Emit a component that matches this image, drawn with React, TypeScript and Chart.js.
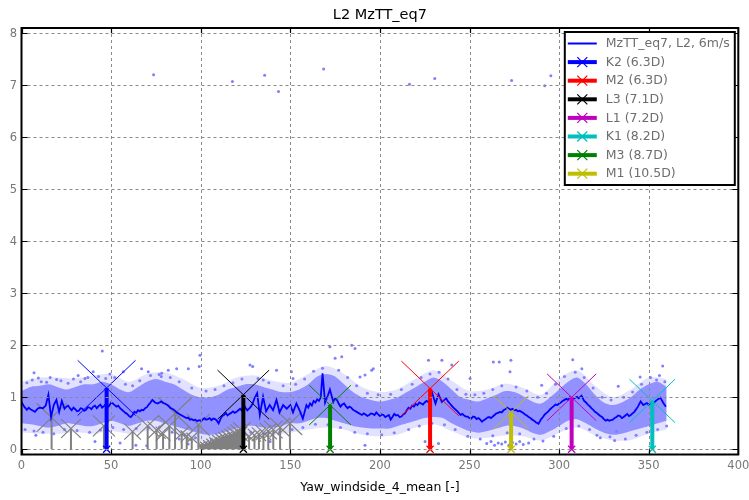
import { useEffect, useRef } from 'react';
import { Chart, registerables } from 'chart.js';

Chart.register(...registerables);

const FONT = '"DejaVu Sans", sans-serif';

const chartTitle = 'L2 MzTT_eq7';
const xAxisTitle = 'Yaw_windside_4_mean [-]';
const xTicks = [0, 50, 100, 150, 200, 250, 300, 350, 400];
const yTicks = [0, 1, 2, 3, 4, 5, 6, 7, 8];

const meanLabel = 'MzTT_eq7, L2, 6m/s';
const meanLine: [number, number][] = [
  [0, 0.91], [1.5, 0.82], [3, 0.76], [4, 0.8], [5, 0.77], [6.5, 0.74], [7.5, 0.72], [9, 0.78], [10, 0.8], [12, 0.79], [13.5, 0.84], [15, 1.05], [16.5, 0.62],
  [18, 0.85], [19.5, 0.95], [21, 0.72], [22.5, 0.93], [24, 0.78], [25, 0.82], [26, 0.84], [27, 0.79], [28, 0.75], [29, 0.8], [30, 0.77], [31, 0.73], [32, 0.74], [33, 0.79], [34, 0.78],
  [35, 0.74], [36, 0.76], [37, 0.81], [38, 0.8], [39, 0.77], [40, 0.82], [41, 0.84], [42, 0.79], [43, 0.83], [44, 0.86], [45, 0.8], [46, 0.83], [47.5, 0.88], [48.5, 0.82], [49, 0.84], [50, 0.9], [51, 0.88], [52, 0.85], [53, 0.82],
  [54, 0.84], [55, 0.79], [56, 0.76], [57, 0.73], [58, 0.7], [59, 0.68], [60, 0.64], [61, 0.62], [62, 0.66], [63, 0.72], [64, 0.7], [65, 0.75], [66, 0.73], [67, 0.76], [68, 0.75], [69, 0.79], [70, 0.81], [71, 0.86], [72, 0.9], [73, 0.95],
  [74.5, 0.9], [76, 0.88], [77, 0.9], [78, 0.92], [79, 0.89], [80, 0.88], [81, 0.86], [82, 0.84], [83, 0.8], [84, 0.78], [85, 0.76], [86, 0.73], [87, 0.7], [88, 0.68], [89, 0.66], [90, 0.64], [91, 0.62], [92, 0.6],
  [93, 0.61], [94, 0.57], [95, 0.58], [96, 0.56], [97, 0.57], [98, 0.54], [99, 0.56], [100, 0.55], [101, 0.57], [102, 0.6], [103, 0.57], [104, 0.58], [105, 0.6], [106, 0.56], [107, 0.59], [108, 0.58], [109, 0.55], [110, 0.5], [111, 0.58], [112, 0.64],
  [113, 0.66], [114, 0.7], [115, 0.65], [116, 0.68], [117, 0.7], [118, 0.73], [119, 0.7], [120, 0.72], [121, 0.75], [122, 0.78], [123, 0.74], [124, 0.86], [125, 0.8], [126, 0.75], [127, 0.78], [128, 0.82], [129, 0.88], [130, 0.98], [131.5, 1.08],
  [133, 0.66], [134.8, 1.01], [136.5, 0.73], [138.5, 0.85], [140.4, 0.75], [142.3, 0.95], [144, 0.71], [146, 0.85], [148, 0.78], [150, 0.85],
  [151.5, 0.71], [153.4, 0.88], [155.3, 0.74], [157, 0.59], [159, 0.85], [160, 0.8], [161, 0.88], [162, 0.84], [163, 0.93], [164, 0.9], [165, 0.96], [166, 0.93], [167, 1.0], [168, 1.46],
  [169.4, 0.9], [171, 1.04], [172.1, 1.15], [174, 0.91], [175, 0.98], [176, 0.95], [177, 0.88], [178, 0.82], [179, 0.86], [180, 0.88], [181, 0.83], [182, 0.79], [183, 0.82], [184, 0.8], [185, 0.76], [186, 0.74],
  [187, 0.72], [188, 0.7], [189, 0.68], [190, 0.66], [191, 0.69], [192, 0.67], [193, 0.64], [194, 0.66], [195, 0.69], [196, 0.68], [197, 0.66], [198, 0.71], [199, 0.67], [200, 0.64], [201, 0.67], [202, 0.66], [203, 0.62], [204, 0.64], [205, 0.66], [206, 0.57],
  [207, 0.62], [208, 0.68], [209, 0.65], [210, 0.66], [211, 0.62], [212, 0.63], [213, 0.67], [214, 0.69], [215, 0.75], [216, 0.8], [217, 0.78], [218, 0.84], [219, 0.82], [220, 0.87], [221, 0.85], [222, 0.9], [223, 0.88], [224, 0.86], [225, 0.9], [226, 0.93],
  [227, 0.91], [228, 0.97], [229, 1.1], [231, 0.88], [232.7, 1.06], [234.6, 0.91], [236, 0.95], [237, 0.98], [238, 0.92], [239, 0.88], [240, 0.84], [241, 0.8], [242, 0.77], [243, 0.74], [244, 0.7], [245, 0.66],
  [246, 0.68], [247, 0.65], [248, 0.63], [249, 0.63], [250, 0.6], [251, 0.59], [252, 0.63], [253, 0.62], [254, 0.58], [255, 0.6], [256, 0.57], [257, 0.53], [258, 0.56], [259, 0.58], [260, 0.61], [261, 0.62], [262, 0.6], [263, 0.63], [264, 0.66], [265, 0.69],
  [266, 0.7], [267, 0.72], [268, 0.71], [269, 0.75], [270, 0.77], [271, 0.8], [272, 0.78], [273, 0.76], [274, 0.78], [275, 0.75], [276, 0.76], [277, 0.73], [278, 0.74], [279, 0.72], [280, 0.7], [281, 0.67], [282, 0.65], [283, 0.62], [284, 0.6], [285, 0.57],
  [286, 0.55], [287, 0.52], [288.5, 0.49], [290, 0.58], [291, 0.62], [292, 0.67], [293, 0.7], [294, 0.73], [295, 0.77], [296, 0.8], [297, 0.83], [298, 0.86], [299, 0.85], [300, 0.88], [301, 0.9], [302, 0.93], [303, 0.95], [304, 0.97],
  [305, 0.95], [306, 1.0], [307, 0.98], [308, 0.97], [309, 0.99], [310, 1.01], [311, 0.98], [312.5, 1.03], [314, 0.93], [315, 0.9], [316, 0.86], [317, 0.83], [318, 0.79], [319, 0.76], [320, 0.72], [321, 0.7], [322, 0.67], [323, 0.64], [324, 0.62],
  [325, 0.58], [326, 0.55], [327, 0.57], [328, 0.55], [329, 0.56], [330, 0.57], [331, 0.6], [332, 0.62], [333, 0.65], [334, 0.64], [335, 0.6], [336, 0.62], [337, 0.65], [338, 0.68], [339, 0.64], [340, 0.66], [341, 0.69], [342, 0.72], [343, 0.77], [344, 0.82],
  [345.5, 0.92], [347, 0.85], [348, 0.87], [349, 0.89], [350, 0.86], [351, 0.88], [352, 0.91], [353, 0.9], [354, 0.93], [355, 0.96], [356.5, 0.99], [357.2, 0.95], [358, 0.9], [359.6, 0.82],
];

// scatter cloud envelope: dense core (5-unit steps) and sparse fringe (10-unit steps)
const coreX = [0, 5, 10, 15, 20, 25, 30, 35, 40, 45, 50, 55, 60, 65, 70, 75, 80, 85, 90, 95, 100, 105, 110, 115, 120, 125, 130, 135, 140, 145, 150, 155, 160, 165, 170, 175, 180, 185, 190, 195, 200, 205, 210, 215, 220, 225, 230, 235, 240, 245, 250, 255, 260, 265, 270, 275, 280, 285, 290, 295, 300, 305, 310, 315, 320, 325, 330, 335, 340, 345, 350, 355, 360];
const coreLow = [0.5, 0.48, 0.45, 0.42, 0.45, 0.5, 0.48, 0.45, 0.45, 0.5, 0.55, 0.5, 0.45, 0.5, 0.55, 0.55, 0.5, 0.45, 0.4, 0.35, 0.3, 0.28, 0.3, 0.35, 0.4, 0.45, 0.45, 0.42, 0.42, 0.45, 0.5, 0.5, 0.55, 0.6, 0.6, 0.55, 0.5, 0.45, 0.42, 0.4, 0.4, 0.4, 0.45, 0.5, 0.55, 0.6, 0.62, 0.6, 0.5, 0.42, 0.35, 0.32, 0.35, 0.4, 0.45, 0.45, 0.4, 0.32, 0.28, 0.35, 0.45, 0.55, 0.58, 0.5, 0.4, 0.32, 0.28, 0.3, 0.35, 0.4, 0.45, 0.5, 0.55];
const coreHigh = [1.12, 1.2, 1.22, 1.25, 1.2, 1.15, 1.2, 1.25, 1.25, 1.3, 1.25, 1.15, 1.1, 1.2, 1.3, 1.35, 1.3, 1.25, 1.15, 1.05, 1.0, 1.0, 1.05, 1.15, 1.2, 1.25, 1.25, 1.2, 1.15, 1.1, 1.1, 1.15, 1.25, 1.4, 1.45, 1.4, 1.25, 1.1, 1.0, 0.95, 0.92, 0.95, 1.0, 1.1, 1.2, 1.3, 1.38, 1.3, 1.15, 1.0, 0.95, 0.92, 0.98, 1.05, 1.12, 1.1, 1.02, 0.92, 0.88, 1.0, 1.15, 1.3, 1.38, 1.25, 1.05, 0.9, 0.85, 0.9, 1.0, 1.15, 1.25, 1.3, 1.2];
const fringeX = [0, 10, 20, 30, 40, 50, 60, 70, 80, 90, 100, 110, 120, 130, 140, 150, 160, 170, 180, 190, 200, 210, 220, 230, 240, 250, 260, 270, 280, 290, 300, 310, 320, 330, 340, 350, 360];
const fringeLow = [0.33, 0.3, 0.3, 0.33, 0.3, 0.35, 0.3, 0.35, 0.35, 0.25, 0.15, 0.15, 0.2, 0.28, 0.28, 0.32, 0.38, 0.42, 0.38, 0.28, 0.25, 0.28, 0.42, 0.48, 0.35, 0.22, 0.22, 0.27, 0.25, 0.17, 0.32, 0.42, 0.27, 0.17, 0.18, 0.3, 0.38];
const fringeHigh = [1.3, 1.38, 1.38, 1.36, 1.42, 1.45, 1.3, 1.45, 1.48, 1.35, 1.18, 1.22, 1.38, 1.42, 1.32, 1.28, 1.45, 1.6, 1.45, 1.2, 1.1, 1.16, 1.36, 1.52, 1.32, 1.12, 1.15, 1.26, 1.18, 1.05, 1.36, 1.52, 1.22, 1.0, 1.15, 1.38, 1.35];

// individual outlying samples
const outliers: [number, number][] = [
  [73.7, 7.2], [117.7, 7.07], [135.7, 7.19], [143.4, 6.88], [168.6, 7.31], [216.5, 7.02], [230.6, 7.13], [273.5, 7.09], [292, 6.99], [295.4, 7.18],
  [45.1, 1.89], [7, 1.47], [9.4, 1.37], [14, 1.29], [19.6, 1.34], [31.6, 1.42], [35.4, 1.36], [40, 1.49], [49.3, 1.45], [56.8, 1.49],
  [67, 1.55], [70.7, 1.49], [76.8, 1.44], [99.6, 1.81], [99.2, 1.59], [93.1, 1.55], [86.6, 1.55], [81.9, 1.52], [78.2, 1.46], [127.5, 1.62],
  [129, 1.59], [142.3, 1.52], [134.9, 1.33], [151.5, 1.36], [150.6, 1.49], [186.1, 1.94], [184.3, 2.0], [172.1, 1.97], [178.7, 1.78], [175, 1.75],
  [191.7, 1.43], [195.4, 1.52], [196.3, 1.55], [188.9, 1.39], [227.1, 1.71], [234.6, 1.71], [240.1, 1.62], [263.3, 1.68], [266.6, 1.68], [273.1, 1.71],
  [272.6, 1.49], [307.6, 1.72], [312.7, 1.55], [250.3, 1.36], [290.3, 1.23], [357.8, 1.6], [345.2, 1.39], [333, 1.21], [354.4, 1.33],
  [8, 0.27], [63.8, 0.08], [69.9, 0.07], [138.7, 0.15], [172.1, 0.18], [191.7, 0.08], [232.7, 0.11], [225.2, 0.15], [259.6, 0.11], [321.1, 0.27],
  [332.1, 0.34], [328.4, 0.24], [266, 0.12], [268, 0.1], [270, 0.14], [272, 0.08], [274, 0.13], [276, 0.1], [278, 0.15], [280, 0.09],
  [283, 0.12], [264, 0.08], [262, 0.15], [41, 0.15], [55, 0.12], [88, 0.2], [93, 0.1], [103, 0.05], [112, 0.12],
];

// samples on the ragged edge of the cloud
const edgePoints: [number, number][] = [
  [3, 1.28], [6, 1.33], [11, 1.3], [16, 1.38], [22, 1.32], [26, 1.27], [29, 1.35], [33, 1.3], [37, 1.38], [43, 1.4], [47, 1.36], [52, 1.38],
  [58, 1.25], [62, 1.22], [66, 1.32], [72, 1.42], [78, 1.4], [83, 1.38], [88, 1.3], [95, 1.18], [103, 1.12], [108, 1.15], [113, 1.22], [118, 1.28],
  [123, 1.35], [132, 1.36], [138, 1.28], [146, 1.22], [153, 1.25], [158, 1.35], [163, 1.5], [168, 1.56], [177, 1.52], [182, 1.38], [187, 1.22],
  [193, 1.08], [199, 1.05], [206, 1.06], [212, 1.15], [218, 1.25], [223, 1.38], [228, 1.45], [233, 1.48], [238, 1.35], [243, 1.15], [248, 1.06],
  [253, 1.05], [258, 1.08], [263, 1.15], [268, 1.22], [276, 1.2], [282, 1.12], [288, 1.0], [293, 1.08], [298, 1.25], [303, 1.4], [309, 1.48],
  [314, 1.38], [319, 1.18], [324, 1.0], [329, 0.95], [336, 1.0], [341, 1.1], [346, 1.25], [351, 1.38], [356, 1.42], [359, 1.3],
  [2, 0.38], [7, 0.35], [12, 0.33], [18, 0.3], [24, 0.38], [31, 0.36], [38, 0.33], [44, 0.37], [51, 0.42], [57, 0.38], [64, 0.4], [71, 0.42],
  [77, 0.43], [84, 0.33], [91, 0.28], [97, 0.22], [106, 0.18], [114, 0.22], [121, 0.28], [128, 0.33], [136, 0.3], [144, 0.33], [151, 0.38],
  [157, 0.42], [164, 0.48], [171, 0.47], [178, 0.42], [186, 0.33], [193, 0.3], [201, 0.28], [208, 0.32], [216, 0.38], [222, 0.45], [229, 0.5],
  [236, 0.47], [242, 0.38], [249, 0.25], [256, 0.2], [263, 0.26], [271, 0.32], [278, 0.3], [286, 0.2], [291, 0.16], [297, 0.25], [304, 0.4],
  [311, 0.45], [317, 0.38], [323, 0.22], [331, 0.17], [337, 0.2], [343, 0.27], [349, 0.33], [355, 0.38], [360, 0.45],
];

// background wind-farm turbines (grey): position and hub height
const grayX = [16.8, 27.6, 46, 62, 70.4, 75.4, 79, 82.5, 85.7, 89.4, 92.2, 95, 98.7, 100, 101, 102, 103, 104, 105, 106, 107, 108, 109, 110, 111, 112, 113, 114, 115, 116, 117, 118, 119, 120, 121, 122, 123, 127, 130, 132.5, 135, 137.7, 140.5, 144.3, 149.8];
const grayH = [0.61, 0.4, 0.45, 0.34, 0.45, 0.37, 0.3, 0.45, 0.69, 0.3, 0.25, 0.22, 0.47, 0.08, 0.1, 0.07, 0.12, 0.1, 0.14, 0.11, 0.16, 0.14, 0.19, 0.16, 0.21, 0.18, 0.23, 0.2, 0.25, 0.22, 0.27, 0.25, 0.3, 0.27, 0.33, 0.3, 0.36, 0.25, 0.27, 0.29, 0.32, 0.35, 0.38, 0.42, 0.5];

// highlighted turbines
const turbineNames = ['K2 (6.3D)', 'M2 (6.3D)', 'L3 (7.1D)', 'L1 (7.2D)', 'K1 (8.2D)', 'M3 (8.7D)', 'M1 (10.5D)'];
const turbineX = [47.5, 228, 123.8, 307, 352, 172.2, 273.2];
const turbineH = [1.18, 1.17, 1.05, 1.0, 0.93, 0.85, 0.71];
const turbineColors = ['#0000ff', '#ff0000', '#000000', '#bf00bf', '#00bfbf', '#008000', '#bfbf00'];

const BLADE_X = 13.7;
const BLADE_Y = 0.45;

function blades(xs: number[], hs: number[]) {
  const pts: { x: number; y: number | null }[] = [];
  xs.forEach((x, i) => {
    const h = hs[i];
    const ax = BLADE_X * h;
    const ay = BLADE_Y * h;
    pts.push({ x: x - ax, y: h + ay }, { x: x + ax, y: h - ay }, { x: x + ax, y: null });
    pts.push({ x: x - ax, y: h - ay }, { x: x + ax, y: h + ay }, { x: x + ax, y: null });
  });
  return pts;
}

function towers(xs: number[], hs: number[]) {
  const pts: { x: number; y: number | null }[] = [];
  xs.forEach((x, i) => {
    pts.push({ x, y: 0 }, { x, y: hs[i] }, { x, y: null });
  });
  return pts;
}

const deco = {
  id: 'deco',
  afterDatasetsDraw(chart: any) {
    const { ctx, chartArea: a, scales } = chart;
    const xs = scales.x;
    const ys = scales.y;
    ctx.save();
    ctx.strokeStyle = '#8a8a8a';
    ctx.lineWidth = 1;
    ctx.setLineDash([3, 3]);
    ctx.beginPath();
    for (const t of xTicks) {
      if (t <= 0 || t >= 400) continue;
      const p = Math.round(xs.getPixelForValue(t)) + 0.5;
      ctx.moveTo(p, a.top);
      ctx.lineTo(p, a.bottom);
    }
    for (const t of yTicks) {
      const p = Math.round(ys.getPixelForValue(t)) + 0.5;
      ctx.moveTo(a.left, p);
      ctx.lineTo(a.right, p);
    }
    ctx.stroke();
    ctx.setLineDash([]);
    ctx.strokeStyle = '#000';
    ctx.lineWidth = 1.2;
    ctx.beginPath();
    for (const t of xTicks) {
      const p = Math.round(xs.getPixelForValue(t)) + 0.5;
      ctx.moveTo(p, a.bottom);
      ctx.lineTo(p, a.bottom - 5);
      ctx.moveTo(p, a.top);
      ctx.lineTo(p, a.top + 5);
    }
    for (const t of yTicks) {
      const p = Math.round(ys.getPixelForValue(t)) + 0.5;
      ctx.moveTo(a.left, p);
      ctx.lineTo(a.left + 6, p);
      ctx.moveTo(a.right, p);
      ctx.lineTo(a.right - 6, p);
    }
    ctx.stroke();
    ctx.lineWidth = 2;
    ctx.strokeRect(a.left, a.top, a.right - a.left, a.bottom - a.top);
    ctx.restore();
  },
  afterDraw(chart: any) {
    const { ctx, chartArea: a, scales } = chart;
    const xs = scales.x;
    const ys = scales.y;
    ctx.save();
    ctx.fillStyle = '#777777';
    ctx.font = `11.5px ${FONT}`;
    ctx.textAlign = 'right';
    ctx.textBaseline = 'middle';
    for (const t of yTicks) ctx.fillText(String(t), a.left - 4.5, ys.getPixelForValue(t) + 0.5);
    ctx.textAlign = 'center';
    ctx.textBaseline = 'top';
    for (const t of xTicks) ctx.fillText(String(t), xs.getPixelForValue(t), a.bottom + 6);
    const cx = (a.left + a.right) / 2;
    ctx.fillStyle = '#000';
    ctx.font = `14.5px ${FONT}`;
    ctx.textBaseline = 'middle';
    ctx.fillText(chartTitle, cx, 15);
    ctx.font = `12.5px ${FONT}`;
    ctx.fillText(xAxisTitle, cx, 488);
    // legend
    const bw = 170;
    const bh = 153;
    const bx = a.right - 3.5 - bw;
    const by = a.top + 4;
    ctx.fillStyle = '#fff';
    ctx.fillRect(bx, by, bw, bh);
    ctx.strokeStyle = '#000';
    ctx.lineWidth = 2;
    ctx.strokeRect(bx, by, bw, bh);
    const entries = [{ label: meanLabel, color: '#0000ff', width: 2, marker: false }].concat(
      turbineNames.map((n, i) => ({ label: n, color: turbineColors[i], width: 4, marker: true }))
    );
    ctx.font = `12.5px ${FONT}`;
    ctx.textAlign = 'left';
    ctx.textBaseline = 'middle';
    entries.forEach((e, i) => {
      const yy = by + 11.5 + i * 18.6;
      const x0 = bx + 3;
      const x1 = bx + 32;
      ctx.strokeStyle = e.color;
      ctx.lineWidth = e.width;
      ctx.beginPath();
      ctx.moveTo(x0, yy);
      ctx.lineTo(x1, yy);
      ctx.stroke();
      if (e.marker) {
        const mx = (x0 + x1) / 2;
        ctx.lineWidth = 1.2;
        ctx.beginPath();
        ctx.moveTo(mx - 5, yy - 5);
        ctx.lineTo(mx + 5, yy + 5);
        ctx.moveTo(mx - 5, yy + 5);
        ctx.lineTo(mx + 5, yy - 5);
        ctx.stroke();
      }
      ctx.fillStyle = '#6e6e6e';
      ctx.fillText(e.label, bx + 41, yy + 0.5);
    });
    ctx.restore();
  },
};

export default function App() {
  const ref = useRef<HTMLCanvasElement | null>(null);
  useEffect(() => {
    if (!ref.current) return;
    const band = (xsArr: number[], arr: number[]) => xsArr.map((x, i) => ({ x, y: arr[i] }));
    const datasets: any[] = [
      { data: band(fringeX, fringeLow), borderWidth: 0, pointRadius: 0, fill: false, tension: 0.3, order: 20 },
      { data: band(fringeX, fringeHigh), borderWidth: 0, pointRadius: 0, fill: { target: 0 }, backgroundColor: 'rgba(125,125,255,0.22)', tension: 0.3, order: 19 },
      { data: band(coreX, coreLow), borderWidth: 0, pointRadius: 0, fill: false, tension: 0.3, order: 18 },
      { data: band(coreX, coreHigh), borderWidth: 0, pointRadius: 0, fill: { target: 2 }, backgroundColor: 'rgba(128,128,255,0.82)', tension: 0.3, order: 17 },
      {
        data: outliers.concat(edgePoints).map(([x, y]) => ({ x, y })),
        showLine: false, pointRadius: 1.5, pointBorderWidth: 0,
        pointBackgroundColor: '#7f7fff', borderColor: '#7f7fff', order: 16,
      },
      { data: towers(grayX, grayH), borderColor: '#808080', borderWidth: 2, pointRadius: 0, spanGaps: false, order: 15 },
      { data: blades(grayX, grayH), borderColor: '#808080', borderWidth: 1.2, pointRadius: 0, spanGaps: false, order: 15 },
      { data: meanLine.map(([x, y]) => ({ x, y })), borderColor: '#0000ff', borderWidth: 1.8, pointRadius: 0, order: 10 },
    ];
    turbineX.forEach((x, i) => {
      datasets.push({
        data: [{ x, y: 0 }, { x, y: turbineH[i] }],
        borderColor: turbineColors[i], borderWidth: 4,
        pointStyle: 'crossRot', pointRadius: [5, 0], pointBorderWidth: 1.3,
        pointBorderColor: turbineColors[i], order: 5,
      });
      datasets.push({
        data: blades([x], [turbineH[i]]),
        borderColor: turbineColors[i], borderWidth: 1, pointRadius: 0, spanGaps: false, order: 5,
      });
    });
    const chart = new Chart(ref.current, {
      type: 'line',
      data: { datasets },
      options: {
        animation: false,
        responsive: true,
        maintainAspectRatio: false,
        layout: { padding: { left: 21.5, right: 10.7, top: 28, bottom: 45.5 } },
        scales: {
          x: { type: 'linear', min: 0, max: 400, display: false },
          y: { type: 'linear', min: -0.1, max: 8.1, display: false },
        },
        plugins: { legend: { display: false }, tooltip: { enabled: false }, title: { display: false } },
      },
      plugins: [deco],
    });
    return () => chart.destroy();
  }, []);
  return (
    <div style={{ position: 'fixed', left: 0, top: 0, width: 749, height: 500, background: '#fff' }}>
      <canvas ref={ref} />
    </div>
  );
}
